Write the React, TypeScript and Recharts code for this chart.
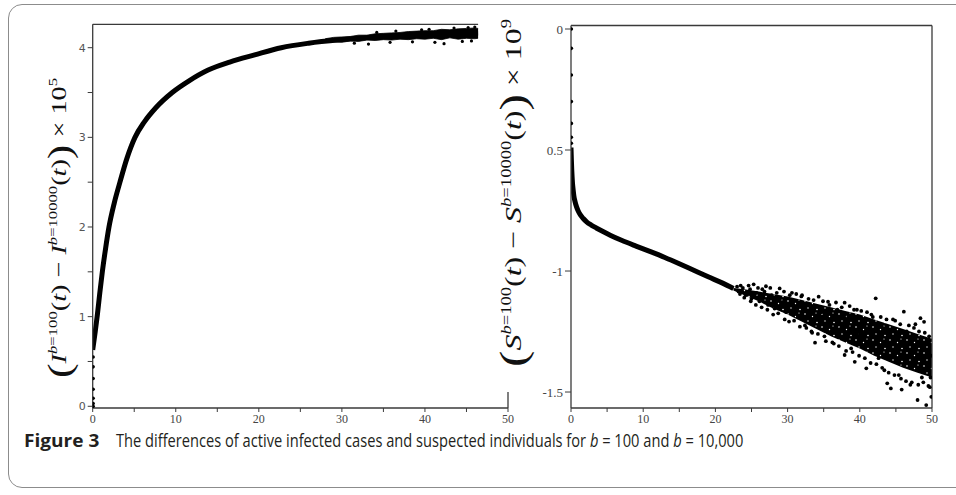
import React from 'react';
import { ComposedChart, Line, Area, Scatter, XAxis, YAxis, ReferenceLine } from 'recharts';

// ---------- shared axis ticks ----------
const xTicks = [0, 5, 10, 15, 20, 25, 30, 35, 40, 45, 50];
const leftYTicks = [0, 0.5, 1, 1.5, 2, 2.5, 3, 3.5, 4];
const rightYTicks = [0, -0.5, -1, -1.5];
const rightYTickLabels = ['0', '0.5', '-1', '-1.5'];

// ---------- left panel: I(b=100) - I(b=10000), x 1e5 ----------
const infT = [0, 0.3, 0.56, 0.85, 1.16, 1.55, 1.96, 2.6, 3.28, 4.1, 5.09, 6.2, 7.6, 9.58, 11.6, 13.9, 16.5, 19.5, 22.7, 26, 30, 34, 38, 42, 46.4];
const infV = [0.63, 0.83, 1.02, 1.26, 1.5, 1.76, 2.0, 2.27, 2.5, 2.76, 3.0, 3.17, 3.33, 3.5, 3.63, 3.75, 3.84, 3.92, 4.0, 4.05, 4.09, 4.12, 4.14, 4.155, 4.165];
const infStartV = [0, 0.03, 0.09, 0.19, 0.31, 0.44, 0.55];
const infBandT = [28, 29, 30, 31, 32, 33, 34, 35, 36, 37, 38, 39, 40, 41, 42, 43, 44, 45, 46, 46.4];
const infBandHi = [4.1, 4.115, 4.12, 4.125, 4.14, 4.14, 4.155, 4.16, 4.165, 4.17, 4.18, 4.185, 4.19, 4.19, 4.205, 4.2, 4.21, 4.215, 4.22, 4.215];
const infBandLo = [4.06, 4.065, 4.06, 4.075, 4.07, 4.085, 4.08, 4.09, 4.085, 4.095, 4.09, 4.1, 4.095, 4.105, 4.09, 4.11, 4.095, 4.105, 4.1, 4.105];
const infNoiseT = [31.5, 33.2, 35.8, 38.5, 41.2, 42.3, 44.5, 45.6, 36.5, 40.5, 43.5, 45.2, 46.0, 34.2, 39.6];
const infNoiseV = [4.05, 4.04, 4.06, 4.065, 4.06, 4.045, 4.07, 4.075, 4.185, 4.205, 4.22, 4.225, 4.23, 4.17, 4.2];

// ---------- right panel: S(b=100) - S(b=10000), x 1e9 ----------
const susT = [0, 0.02, 0.05, 0.1, 0.15, 0.2, 0.3, 0.4, 0.55, 0.77, 1.0, 1.3, 1.7, 2.2, 2.8, 3.5, 4.5, 5.5, 7, 9, 11, 13, 15, 17, 19, 21, 22.5];
const susV = [-0.49, -0.51, -0.54, -0.58, -0.61, -0.635, -0.665, -0.69, -0.712, -0.735, -0.752, -0.768, -0.783, -0.798, -0.81, -0.822, -0.838, -0.853, -0.873, -0.897, -0.92, -0.944, -0.97, -0.997, -1.024, -1.05, -1.072];
const susStartV = [0, -0.08, -0.19, -0.3, -0.39, -0.447, -0.472];
const susBandT = [22.5, 24, 26, 28, 30, 32, 34, 36, 38, 40, 42, 44, 46, 48, 50];
const susBandHi = [-1.07, -1.075, -1.085, -1.095, -1.105, -1.12, -1.135, -1.15, -1.165, -1.18, -1.2, -1.22, -1.24, -1.26, -1.28];
const susBandLo = [-1.08, -1.1, -1.125, -1.155, -1.18, -1.21, -1.24, -1.27, -1.295, -1.32, -1.35, -1.375, -1.4, -1.42, -1.44];
const cloudT = [
  23.0, 23.4, 23.8, 24.2, 24.6, 25.0, 25.3, 25.7, 26.1, 26.5, 27.0, 27.3, 27.8, 28.2, 28.9, 29.3, 29.8, 30.2, 30.6, 31.0,
  31.5, 31.9, 32.4, 32.8, 33.3, 33.8, 34.3, 34.7, 35.1, 35.6, 36.0, 36.4, 36.9, 37.4, 37.9, 37.9, 38.4, 38.8, 39.3, 39.6,
  40.0, 40.4, 40.9, 41.3, 41.8, 42.2, 42.6, 43.0, 43.4, 43.8, 44.3, 44.6, 45.0, 45.4, 45.8, 46.1, 46.5, 47.0, 47.3, 47.7,
  48.0, 48.4, 48.6, 48.9, 49.2, 49.4, 49.7, 49.9, 49.9,
  23.5, 24.8, 25.9, 26.8, 27.6, 28.5, 29.5, 30.3, 31.2, 32.0, 32.9, 33.6, 34.9, 35.8, 36.7, 37.5, 38.6, 39.2, 40.2, 41.0,
  41.6, 42.9, 43.7, 44.9, 45.6, 46.8, 47.5, 48.2, 49.0, 49.6,
  23.2, 24.0, 24.9, 25.6, 26.4, 27.2, 28.0, 28.7, 29.6, 30.9, 31.7, 32.6, 33.4, 34.2, 35.3, 36.2, 37.1, 38.1, 39.0, 39.9,
  40.7, 41.5, 42.3, 43.1, 44.0, 44.8, 45.7, 46.4, 47.2, 48.1, 48.8, 49.5, 49.8,
];
const cloudV = [
  -1.065, -1.095, -1.07, -1.1, -1.06, -1.115, -1.055, -1.09, -1.125, -1.075, -1.063, -1.14, -1.1, -1.155, -1.072, -1.13, -1.17, -1.209, -1.09, -1.15,
  -1.19, -1.105, -1.225, -1.14, -1.25, -1.296, -1.106, -1.17, -1.27, -1.127, -1.21, -1.3, -1.16, -1.24, -1.131, -1.347, -1.19, -1.32, -1.375, -1.16,
  -1.26, -1.2, -1.402, -1.3, -1.19, -1.113, -1.36, -1.23, -1.41, -1.464, -1.485, -1.2, -1.32, -1.43, -1.49, -1.168, -1.25, -1.47, -1.38, -1.22,
  -1.533, -1.195, -1.44, -1.21, -1.554, -1.3, -1.48, -1.35, -1.52,
  -1.06, -1.075, -1.07, -1.085, -1.07, -1.09, -1.085, -1.1, -1.095, -1.1, -1.115, -1.12, -1.125, -1.14, -1.13, -1.15, -1.145, -1.16, -1.165, -1.17,
  -1.18, -1.19, -1.2, -1.205, -1.22, -1.225, -1.235, -1.25, -1.255, -1.27,
  -1.085, -1.11, -1.125, -1.14, -1.15, -1.16, -1.18, -1.175, -1.2, -1.205, -1.23, -1.235, -1.255, -1.26, -1.29, -1.295, -1.31, -1.33, -1.335, -1.35,
  -1.36, -1.38, -1.385, -1.4, -1.42, -1.43, -1.445, -1.455, -1.46, -1.47, -1.46, -1.475, -1.44,
];

// ---------- built tables ----------
const infCurve = infT.map((t, i) => ({ t, v: infV[i] }));
const infStart = infStartV.map((v) => ({ t: 0.05, v }));
const infBand = infBandT.map((t, i) => ({ t, band: [infBandLo[i], infBandHi[i]] }));
const infNoise = infNoiseT.map((t, i) => ({ t, v: infNoiseV[i] }));
const susCurve = susT.map((t, i) => ({ t, v: susV[i] }));
const susStart = susStartV.map((v) => ({ t: 0.05, v }));
const susBand = susBandT.map((t, i) => ({ t, band: [susBandLo[i], susBandHi[i]] }));
const cloud = cloudT.map((t, i) => ({ t, v: cloudV[i] }));

const AXIS = '#3a3a3a';
const SERIF = "'Liberation Serif', 'DejaVu Serif', serif";
const SANS = "'DejaVu Sans', sans-serif";
const CAP = "'Open Sans', 'Noto Sans', sans-serif";

const dotShape = (r: number) => (p: any) => <circle cx={p.cx} cy={p.cy} r={r} fill="#000" />;

function MathLabel({ cx, cy, size, length, L, exp }: { cx: number; cy: number; size: number; length: number; L: string; exp: string }) {
  const sup = Math.round(size * 0.6);
  const up = size * 0.42;
  const big = size * 1.55;
  const sh = size * 0.22;
  return (
    <text
      transform={`translate(${cx},${cy}) rotate(-90)`}
      textAnchor="middle"
      fontFamily={SERIF}
      fontSize={size}
      fill="#111"
      textLength={length}
      lengthAdjust="spacingAndGlyphs"
    >
      <tspan fontSize={big} dy={sh}>(</tspan>
      <tspan fontStyle="italic" dy={-sh}>{L}</tspan>
      <tspan fontSize={sup} fontStyle="italic" dy={-up}>b</tspan>
      <tspan fontSize={sup}>=100</tspan>
      <tspan dy={up}>(</tspan>
      <tspan fontStyle="italic">t</tspan>
      <tspan>) − </tspan>
      <tspan fontStyle="italic">{L}</tspan>
      <tspan fontSize={sup} fontStyle="italic" dy={-up}>b</tspan>
      <tspan fontSize={sup}>=10000</tspan>
      <tspan dy={up}>(</tspan>
      <tspan fontStyle="italic">t</tspan>
      <tspan>)</tspan>
      <tspan fontSize={big} dy={sh}>)</tspan>
      <tspan dy={-sh}> × 10</tspan>
      <tspan fontSize={sup} dy={-up}>{exp}</tspan>
    </text>
  );
}

export default function App() {
  return (
    <div style={{ position: 'fixed', left: 0, top: 0, width: 956, height: 495, background: '#fff', overflow: 'hidden' }}>
      <div
        style={{
          position: 'absolute',
          left: 8,
          top: 4,
          width: 980,
          height: 484,
          border: '1.5px solid #8c8c8c',
          borderRadius: 14,
          boxSizing: 'border-box',
        }}
      />
      {/* Left panel */}
      <div style={{ position: 'absolute', left: 0, top: 0 }}>
        <ComposedChart width={520} height={440} margin={{ top: 24.3, right: 12, bottom: 0, left: 0 }}>
          <XAxis
            type="number"
            dataKey="t"
            domain={[0, 50]}
            ticks={xTicks}
            allowDataOverflow
            height={32}
            tickSize={4}
            tickMargin={2}
            tickFormatter={(v: number) => (v % 10 === 0 ? String(v) : '')}
            tick={{ fontSize: 12, fontFamily: SERIF, fill: '#444' }}
            tickLine={{ stroke: AXIS }}
            axisLine={{ stroke: AXIS, strokeWidth: 1.3 }}
          />
          <YAxis
            type="number"
            domain={[-0.019, 4.261]}
            ticks={leftYTicks}
            allowDataOverflow
            width={92.7}
            tickSize={5}
            tickMargin={2}
            tickFormatter={(v: number) => (Number.isInteger(v) ? String(v) : '')}
            tick={{ fontSize: 11, fontFamily: SANS, fill: '#555' }}
            tickLine={{ stroke: AXIS }}
            axisLine={{ stroke: AXIS, strokeWidth: 1.3 }}
            label={{ content: () => <MathLabel cx={66} cy={228} size={22} length={300} L="I" exp="5" /> }}
          />
          <ReferenceLine segment={[{ x: 0, y: 4.261 }, { x: 46.4, y: 4.261 }]} stroke={AXIS} strokeWidth={1.3} ifOverflow="visible" />
          <ReferenceLine segment={[{ x: 50, y: -0.019 }, { x: 50, y: 0.16 }]} stroke={AXIS} strokeWidth={1.3} ifOverflow="visible" />
          <Area data={infBand} dataKey="band" type="linear" stroke="#000" strokeWidth={0.8} fill="#000" fillOpacity={1} isAnimationActive={false} />
          <Line data={infCurve} dataKey="v" type="monotone" stroke="#000" strokeWidth={5} dot={false} isAnimationActive={false} />
          <Scatter data={infStart} dataKey="v" shape={dotShape(1.8)} isAnimationActive={false} />
          <Scatter data={infNoise} dataKey="v" shape={dotShape(1.6)} isAnimationActive={false} />
        </ComposedChart>
      </div>
      {/* Right panel */}
      <div style={{ position: 'absolute', left: 480, top: 0 }}>
        <ComposedChart width={476} height={440} margin={{ top: 25.5, right: 24, bottom: 0, left: 0 }}>
          <defs>
            <pattern id="speckle" width="17" height="13" patternUnits="userSpaceOnUse">
              <rect width="17" height="13" fill="#000" />
              <circle cx="2" cy="2" r="0.8" fill="#fff" />
              <circle cx="9.5" cy="4.5" r="0.7" fill="#fff" />
              <circle cx="5" cy="9" r="0.7" fill="#fff" />
              <circle cx="14" cy="10.5" r="0.8" fill="#fff" />
              <circle cx="13" cy="1" r="0.6" fill="#fff" />
            </pattern>
          </defs>
          <XAxis
            type="number"
            dataKey="t"
            domain={[0, 50]}
            ticks={xTicks}
            allowDataOverflow
            height={32}
            tickSize={4}
            tickMargin={2}
            tickFormatter={(v: number) => (v % 10 === 0 ? String(v) : '')}
            tick={{ fontSize: 12, fontFamily: SERIF, fill: '#444' }}
            tickLine={{ stroke: AXIS }}
            axisLine={{ stroke: AXIS, strokeWidth: 1.3 }}
          />
          <YAxis
            type="number"
            domain={[-1.566, 0.0145]}
            ticks={rightYTicks}
            allowDataOverflow
            width={91}
            tickSize={6}
            tickMargin={2}
            tickFormatter={(v: number) => rightYTickLabels[rightYTicks.indexOf(v)] ?? ''}
            tick={{ fontSize: 13, fontFamily: SERIF, fill: '#444' }}
            tickLine={{ stroke: AXIS }}
            axisLine={{ stroke: AXIS, strokeWidth: 1.3 }}
            label={{ content: () => <MathLabel cx={41} cy={193} size={24} length={348} L="S" exp="9" /> }}
          />
          <ReferenceLine segment={[{ x: 0, y: 0.0145 }, { x: 50, y: 0.0145 }]} stroke={AXIS} strokeWidth={1.3} ifOverflow="visible" />
          <ReferenceLine x={50} stroke={AXIS} strokeWidth={1.3} ifOverflow="visible" />
          <Area data={susBand} dataKey="band" type="linear" stroke="none" fill="url(#speckle)" fillOpacity={1} isAnimationActive={false} />
          <Line data={susCurve} dataKey="v" type="monotone" stroke="#000" strokeWidth={5} dot={false} isAnimationActive={false} />
          <Scatter data={susStart} dataKey="v" shape={dotShape(1.8)} isAnimationActive={false} />
          <Scatter data={cloud} dataKey="v" shape={dotShape(1.9)} isAnimationActive={false} />
        </ComposedChart>
      </div>
      {/* Caption */}
      <svg width={956} height={495} style={{ position: 'absolute', left: 0, top: 0, pointerEvents: 'none' }}>
        <g fontFamily={CAP} fontSize={18} fill="#231f20">
          <text transform="translate(24,447) scale(1.06,1)" fontWeight="bold">Figure 3</text>
          <text transform="translate(116,447) scale(0.814,1)">
            <tspan>The differences of active infected cases and suspected individuals for </tspan>
            <tspan fontStyle="italic">b</tspan>
            <tspan> = 100 and </tspan>
            <tspan fontStyle="italic">b</tspan>
            <tspan> = 10,000</tspan>
          </text>
        </g>
      </svg>
    </div>
  );
}
